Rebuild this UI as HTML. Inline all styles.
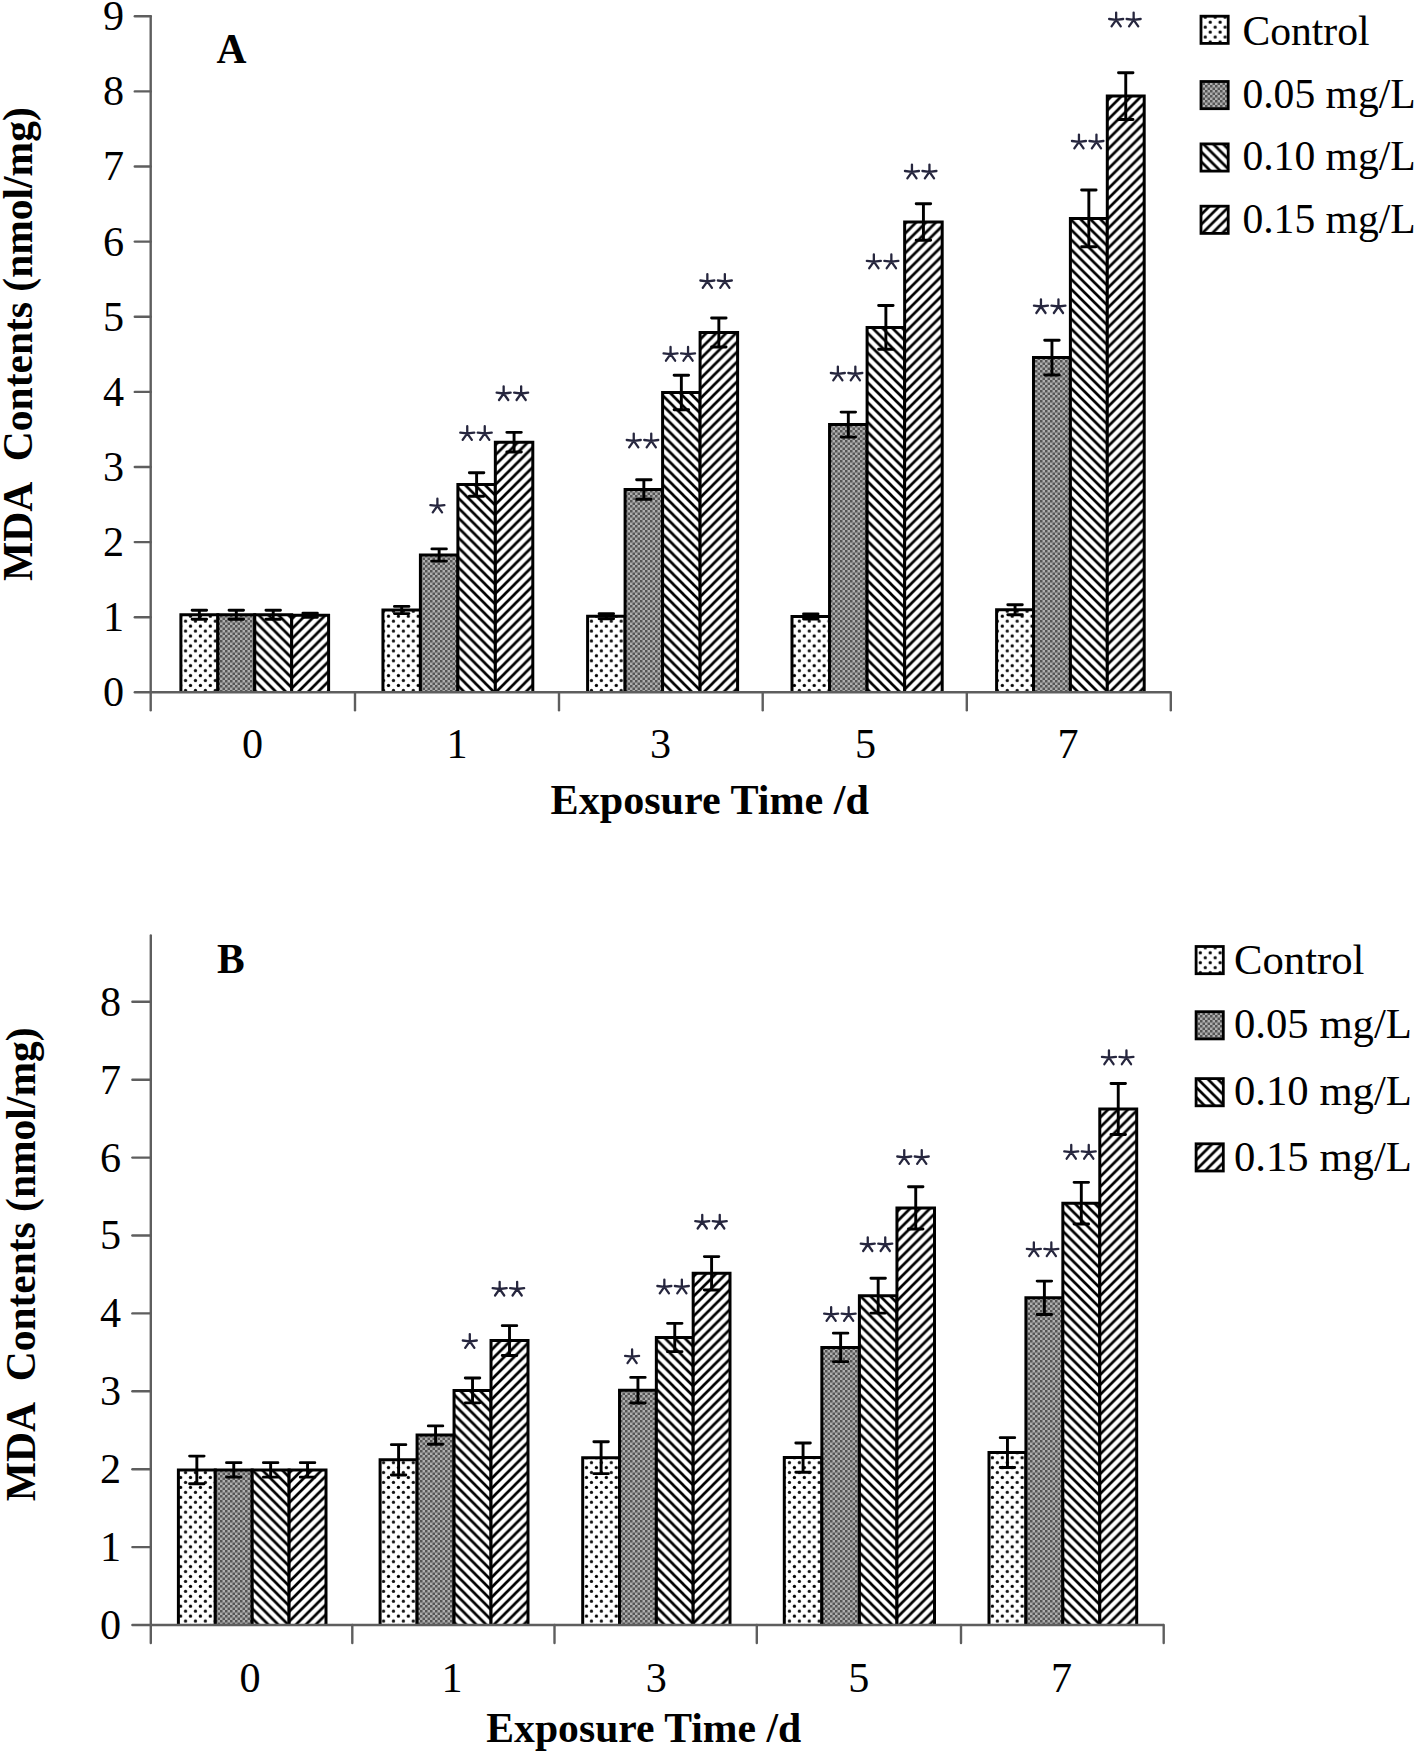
<!DOCTYPE html>
<html><head><meta charset="utf-8"><title>MDA Contents</title><style>html,body{margin:0;padding:0;background:#fff;}body{width:1417px;height:1754px;overflow:hidden;font-family:"Liberation Serif",serif;}svg{display:block;}</style></head><body>
<svg width="1417" height="1754" viewBox="0 0 1417 1754">
<style>.t{font-family:"Liberation Serif",serif;font-size:42.2px;fill:#000}.tb{font-family:"Liberation Serif",serif;font-size:41.5px;font-weight:bold;fill:#000}</style>
<defs><pattern id="pdot" patternUnits="userSpaceOnUse" width="9.90" height="9.90"><rect width="9.90" height="9.90" fill="#fff"/><circle cx="2.4" cy="2.4" r="1.65" fill="#000"/><circle cx="7.35" cy="7.35" r="1.65" fill="#111"/></pattern><pattern id="pgray" patternUnits="userSpaceOnUse" width="5.0" height="5.0"><rect width="5.0" height="5.0" fill="#aeaeae"/><rect width="2.50" height="2.50" fill="#555555"/><rect x="2.50" y="2.50" width="2.50" height="2.50" fill="#555555"/></pattern><pattern id="pdown" patternUnits="userSpaceOnUse" width="9.9" height="9.9"><rect width="9.9" height="9.9" fill="#fff"/><path d="M-3,-3 L12.9,12.9 M6.9,-3 L12.9,3 M-3,6.9 L3,12.9" stroke="#000" stroke-width="2.7"/></pattern><pattern id="pup" patternUnits="userSpaceOnUse" width="9.9" height="9.9"><rect width="9.9" height="9.9" fill="#fff"/><path d="M-3,12.9 L12.9,-3 M-3,3 L3,-3 M6.9,12.9 L12.9,6.9" stroke="#000" stroke-width="2.7"/></pattern></defs>
<rect width="1417" height="1754" fill="#fff"/>
<g stroke="#5e5e5e" stroke-width="2.4" fill="none" stroke-linecap="round">
<line x1="150.7" y1="16.3" x2="150.7" y2="710.3"/>
<line x1="134.8" y1="692.3" x2="150.7" y2="692.3"/>
<line x1="134.8" y1="617.2" x2="150.7" y2="617.2"/>
<line x1="134.8" y1="542.1" x2="150.7" y2="542.1"/>
<line x1="134.8" y1="467.0" x2="150.7" y2="467.0"/>
<line x1="134.8" y1="391.9" x2="150.7" y2="391.9"/>
<line x1="134.8" y1="316.7" x2="150.7" y2="316.7"/>
<line x1="134.8" y1="241.6" x2="150.7" y2="241.6"/>
<line x1="134.8" y1="166.5" x2="150.7" y2="166.5"/>
<line x1="134.8" y1="91.4" x2="150.7" y2="91.4"/>
<line x1="134.8" y1="16.3" x2="150.7" y2="16.3"/>
<line x1="355.0" y1="692.3" x2="355.0" y2="710.3"/>
<line x1="559.0" y1="692.3" x2="559.0" y2="710.3"/>
<line x1="762.7" y1="692.3" x2="762.7" y2="710.3"/>
<line x1="966.8" y1="692.3" x2="966.8" y2="710.3"/>
<line x1="1170.8" y1="692.3" x2="1170.8" y2="710.3"/>
</g>
<g stroke="#000" stroke-width="3.0">
<path d="M180.90,692.80 V614.80 H217.83 V692.80" fill="url(#pdot)"/>
<path d="M217.83,692.80 V614.80 H254.75 V692.80" fill="url(#pgray)"/>
<path d="M254.75,692.80 V614.80 H291.68 V692.80" fill="url(#pdown)"/>
<path d="M291.68,692.80 V615.20 H328.60 V692.80" fill="url(#pup)"/>
<path d="M382.95,692.80 V610.00 H420.41 V692.80" fill="url(#pdot)"/>
<path d="M420.41,692.80 V555.00 H457.87 V692.80" fill="url(#pgray)"/>
<path d="M457.88,692.80 V484.50 H495.34 V692.80" fill="url(#pdown)"/>
<path d="M495.34,692.80 V442.20 H532.80 V692.80" fill="url(#pup)"/>
<path d="M587.60,692.80 V616.30 H625.10 V692.80" fill="url(#pdot)"/>
<path d="M625.10,692.80 V489.50 H662.60 V692.80" fill="url(#pgray)"/>
<path d="M662.60,692.80 V392.50 H700.10 V692.80" fill="url(#pdown)"/>
<path d="M700.10,692.80 V332.50 H737.60 V692.80" fill="url(#pup)"/>
<path d="M792.00,692.80 V616.50 H829.55 V692.80" fill="url(#pdot)"/>
<path d="M829.55,692.80 V424.60 H867.10 V692.80" fill="url(#pgray)"/>
<path d="M867.10,692.80 V327.40 H904.65 V692.80" fill="url(#pdown)"/>
<path d="M904.65,692.80 V222.00 H942.20 V692.80" fill="url(#pup)"/>
<path d="M996.60,692.80 V609.70 H1033.50 V692.80" fill="url(#pdot)"/>
<path d="M1033.50,692.80 V357.60 H1070.40 V692.80" fill="url(#pgray)"/>
<path d="M1070.40,692.80 V218.40 H1107.30 V692.80" fill="url(#pdown)"/>
<path d="M1107.30,692.80 V96.10 H1144.20 V692.80" fill="url(#pup)"/>
</g>
<g stroke="#000" stroke-width="2.9" fill="none" stroke-linecap="round">
<path d="M199.36,610.30 V619.30 M192.11,610.30 H206.61 M192.11,619.30 H206.61"/>
<path d="M236.29,610.30 V619.30 M229.04,610.30 H243.54 M229.04,619.30 H243.54"/>
<path d="M273.21,610.30 V619.30 M265.96,610.30 H280.46 M265.96,619.30 H280.46"/>
<path d="M310.14,613.20 V617.20 M302.89,613.20 H317.39 M302.89,617.20 H317.39"/>
<path d="M401.68,606.40 V613.60 M394.43,606.40 H408.93 M394.43,613.60 H408.93"/>
<path d="M439.14,548.90 V561.10 M431.89,548.90 H446.39 M431.89,561.10 H446.39"/>
<path d="M476.61,472.75 V496.25 M469.36,472.75 H483.86 M469.36,496.25 H483.86"/>
<path d="M514.07,432.35 V452.05 M506.82,432.35 H521.32 M506.82,452.05 H521.32"/>
<path d="M606.35,613.80 V618.80 M599.10,613.80 H613.60 M599.10,618.80 H613.60"/>
<path d="M643.85,479.70 V499.30 M636.60,479.70 H651.10 M636.60,499.30 H651.10"/>
<path d="M681.35,375.20 V409.80 M674.10,375.20 H688.60 M674.10,409.80 H688.60"/>
<path d="M718.85,317.95 V347.05 M711.60,317.95 H726.10 M711.60,347.05 H726.10"/>
<path d="M810.77,614.00 V619.00 M803.52,614.00 H818.02 M803.52,619.00 H818.02"/>
<path d="M848.32,412.10 V437.10 M841.07,412.10 H855.57 M841.07,437.10 H855.57"/>
<path d="M885.88,305.50 V349.30 M878.62,305.50 H893.12 M878.62,349.30 H893.12"/>
<path d="M923.43,203.70 V240.30 M916.18,203.70 H930.68 M916.18,240.30 H930.68"/>
<path d="M1015.05,604.70 V614.70 M1007.80,604.70 H1022.30 M1007.80,614.70 H1022.30"/>
<path d="M1051.95,340.25 V374.95 M1044.70,340.25 H1059.20 M1044.70,374.95 H1059.20"/>
<path d="M1088.85,190.05 V246.75 M1081.60,190.05 H1096.10 M1081.60,246.75 H1096.10"/>
<path d="M1125.75,72.75 V119.45 M1118.50,72.75 H1133.00 M1118.50,119.45 H1133.00"/>
</g>
<line x1="150.7" y1="692.3" x2="1170.8" y2="692.3" stroke="#5e5e5e" stroke-width="2.4"/>
<g stroke="#26263e" stroke-width="2.3" stroke-linecap="round" fill="none">
<path d="M437.40,505.90 l0,-7.2 M437.40,505.90 l-7.0,-0.8 M437.40,505.90 l7.0,-0.8 M437.40,505.90 l-4.6,6.5 M437.40,505.90 l4.6,6.5"/>
<path d="M467.25,433.40 l0,-7.2 M467.25,433.40 l-7.0,-0.8 M467.25,433.40 l7.0,-0.8 M467.25,433.40 l-4.6,6.5 M467.25,433.40 l4.6,6.5"/>
<path d="M484.75,433.40 l0,-7.2 M484.75,433.40 l-7.0,-0.8 M484.75,433.40 l7.0,-0.8 M484.75,433.40 l-4.6,6.5 M484.75,433.40 l4.6,6.5"/>
<path d="M503.65,393.50 l0,-7.2 M503.65,393.50 l-7.0,-0.8 M503.65,393.50 l7.0,-0.8 M503.65,393.50 l-4.6,6.5 M503.65,393.50 l4.6,6.5"/>
<path d="M521.15,393.50 l0,-7.2 M521.15,393.50 l-7.0,-0.8 M521.15,393.50 l7.0,-0.8 M521.15,393.50 l-4.6,6.5 M521.15,393.50 l4.6,6.5"/>
<path d="M633.75,440.80 l0,-7.2 M633.75,440.80 l-7.0,-0.8 M633.75,440.80 l7.0,-0.8 M633.75,440.80 l-4.6,6.5 M633.75,440.80 l4.6,6.5"/>
<path d="M651.25,440.80 l0,-7.2 M651.25,440.80 l-7.0,-0.8 M651.25,440.80 l7.0,-0.8 M651.25,440.80 l-4.6,6.5 M651.25,440.80 l4.6,6.5"/>
<path d="M670.55,354.20 l0,-7.2 M670.55,354.20 l-7.0,-0.8 M670.55,354.20 l7.0,-0.8 M670.55,354.20 l-4.6,6.5 M670.55,354.20 l4.6,6.5"/>
<path d="M688.05,354.20 l0,-7.2 M688.05,354.20 l-7.0,-0.8 M688.05,354.20 l7.0,-0.8 M688.05,354.20 l-4.6,6.5 M688.05,354.20 l4.6,6.5"/>
<path d="M707.35,281.30 l0,-7.2 M707.35,281.30 l-7.0,-0.8 M707.35,281.30 l7.0,-0.8 M707.35,281.30 l-4.6,6.5 M707.35,281.30 l4.6,6.5"/>
<path d="M724.85,281.30 l0,-7.2 M724.85,281.30 l-7.0,-0.8 M724.85,281.30 l7.0,-0.8 M724.85,281.30 l-4.6,6.5 M724.85,281.30 l4.6,6.5"/>
<path d="M837.85,373.80 l0,-7.2 M837.85,373.80 l-7.0,-0.8 M837.85,373.80 l7.0,-0.8 M837.85,373.80 l-4.6,6.5 M837.85,373.80 l4.6,6.5"/>
<path d="M855.35,373.80 l0,-7.2 M855.35,373.80 l-7.0,-0.8 M855.35,373.80 l7.0,-0.8 M855.35,373.80 l-4.6,6.5 M855.35,373.80 l4.6,6.5"/>
<path d="M873.85,261.70 l0,-7.2 M873.85,261.70 l-7.0,-0.8 M873.85,261.70 l7.0,-0.8 M873.85,261.70 l-4.6,6.5 M873.85,261.70 l4.6,6.5"/>
<path d="M891.35,261.70 l0,-7.2 M891.35,261.70 l-7.0,-0.8 M891.35,261.70 l7.0,-0.8 M891.35,261.70 l-4.6,6.5 M891.35,261.70 l4.6,6.5"/>
<path d="M911.95,171.80 l0,-7.2 M911.95,171.80 l-7.0,-0.8 M911.95,171.80 l7.0,-0.8 M911.95,171.80 l-4.6,6.5 M911.95,171.80 l4.6,6.5"/>
<path d="M929.45,171.80 l0,-7.2 M929.45,171.80 l-7.0,-0.8 M929.45,171.80 l7.0,-0.8 M929.45,171.80 l-4.6,6.5 M929.45,171.80 l4.6,6.5"/>
<path d="M1040.95,306.50 l0,-7.2 M1040.95,306.50 l-7.0,-0.8 M1040.95,306.50 l7.0,-0.8 M1040.95,306.50 l-4.6,6.5 M1040.95,306.50 l4.6,6.5"/>
<path d="M1058.45,306.50 l0,-7.2 M1058.45,306.50 l-7.0,-0.8 M1058.45,306.50 l7.0,-0.8 M1058.45,306.50 l-4.6,6.5 M1058.45,306.50 l4.6,6.5"/>
<path d="M1078.95,141.80 l0,-7.2 M1078.95,141.80 l-7.0,-0.8 M1078.95,141.80 l7.0,-0.8 M1078.95,141.80 l-4.6,6.5 M1078.95,141.80 l4.6,6.5"/>
<path d="M1096.45,141.80 l0,-7.2 M1096.45,141.80 l-7.0,-0.8 M1096.45,141.80 l7.0,-0.8 M1096.45,141.80 l-4.6,6.5 M1096.45,141.80 l4.6,6.5"/>
<path d="M1116.15,19.80 l0,-7.2 M1116.15,19.80 l-7.0,-0.8 M1116.15,19.80 l7.0,-0.8 M1116.15,19.80 l-4.6,6.5 M1116.15,19.80 l4.6,6.5"/>
<path d="M1133.65,19.80 l0,-7.2 M1133.65,19.80 l-7.0,-0.8 M1133.65,19.80 l7.0,-0.8 M1133.65,19.80 l-4.6,6.5 M1133.65,19.80 l4.6,6.5"/>
</g>
<text x="124.0" y="706.2" text-anchor="end" class="t">0</text>
<text x="124.0" y="631.1" text-anchor="end" class="t">1</text>
<text x="124.0" y="556.0" text-anchor="end" class="t">2</text>
<text x="124.0" y="480.9" text-anchor="end" class="t">3</text>
<text x="124.0" y="405.8" text-anchor="end" class="t">4</text>
<text x="124.0" y="330.6" text-anchor="end" class="t">5</text>
<text x="124.0" y="255.5" text-anchor="end" class="t">6</text>
<text x="124.0" y="180.4" text-anchor="end" class="t">7</text>
<text x="124.0" y="105.3" text-anchor="end" class="t">8</text>
<text x="124.0" y="30.2" text-anchor="end" class="t">9</text>
<text x="252.5" y="758.0" text-anchor="middle" class="t">0</text>
<text x="457.0" y="758.0" text-anchor="middle" class="t">1</text>
<text x="660.5" y="758.0" text-anchor="middle" class="t">3</text>
<text x="865.5" y="758.0" text-anchor="middle" class="t">5</text>
<text x="1068.0" y="758.0" text-anchor="middle" class="t">7</text>
<text transform="translate(550.6,813.6) scale(1.015,1)" x="0" y="0" class="tb">Exposure Time /d</text>
<text transform="translate(31.6,581.0) rotate(-90)" x="0" y="0" class="tb">MDA&#160; Contents (nmol/mg)</text>
<text x="216.5" y="62.5" class="tb">A</text>
<rect x="1201.0" y="16.2" width="27.2" height="27.2" fill="url(#pdot)" stroke="#000" stroke-width="2.8"/>
<text x="1242.4" y="44.8" class="t" style="font-size:41.6px">Control</text>
<rect x="1201.0" y="81.5" width="27.2" height="27.2" fill="url(#pgray)" stroke="#000" stroke-width="2.8"/>
<text x="1242.4" y="107.5" class="t" style="font-size:41.6px">0.05 mg/L</text>
<rect x="1201.0" y="143.9" width="27.2" height="27.2" fill="url(#pdown)" stroke="#000" stroke-width="2.8"/>
<text x="1242.4" y="170.0" class="t" style="font-size:41.6px">0.10 mg/L</text>
<rect x="1201.0" y="206.2" width="27.2" height="27.2" fill="url(#pup)" stroke="#000" stroke-width="2.8"/>
<text x="1242.4" y="232.5" class="t" style="font-size:41.6px">0.15 mg/L</text>
<g stroke="#5e5e5e" stroke-width="2.4" fill="none" stroke-linecap="round">
<line x1="150.8" y1="935.5" x2="150.8" y2="1643.0"/>
<line x1="132.4" y1="1625.0" x2="150.8" y2="1625.0"/>
<line x1="132.4" y1="1547.1" x2="150.8" y2="1547.1"/>
<line x1="132.4" y1="1469.2" x2="150.8" y2="1469.2"/>
<line x1="132.4" y1="1391.3" x2="150.8" y2="1391.3"/>
<line x1="132.4" y1="1313.4" x2="150.8" y2="1313.4"/>
<line x1="132.4" y1="1235.5" x2="150.8" y2="1235.5"/>
<line x1="132.4" y1="1157.6" x2="150.8" y2="1157.6"/>
<line x1="132.4" y1="1079.7" x2="150.8" y2="1079.7"/>
<line x1="132.4" y1="1001.8" x2="150.8" y2="1001.8"/>
<line x1="352.3" y1="1625.0" x2="352.3" y2="1643.0"/>
<line x1="554.5" y1="1625.0" x2="554.5" y2="1643.0"/>
<line x1="756.8" y1="1625.0" x2="756.8" y2="1643.0"/>
<line x1="961.0" y1="1625.0" x2="961.0" y2="1643.0"/>
<line x1="1163.7" y1="1625.0" x2="1163.7" y2="1643.0"/>
</g>
<g stroke="#000" stroke-width="3.0">
<path d="M178.40,1625.50 V1469.90 H215.30 V1625.50" fill="url(#pdot)"/>
<path d="M215.30,1625.50 V1469.90 H252.20 V1625.50" fill="url(#pgray)"/>
<path d="M252.20,1625.50 V1469.90 H289.10 V1625.50" fill="url(#pdown)"/>
<path d="M289.10,1625.50 V1469.90 H326.00 V1625.50" fill="url(#pup)"/>
<path d="M380.10,1625.50 V1459.80 H417.08 V1625.50" fill="url(#pdot)"/>
<path d="M417.08,1625.50 V1435.10 H454.05 V1625.50" fill="url(#pgray)"/>
<path d="M454.05,1625.50 V1390.40 H491.02 V1625.50" fill="url(#pdown)"/>
<path d="M491.02,1625.50 V1340.60 H528.00 V1625.50" fill="url(#pup)"/>
<path d="M582.70,1625.50 V1457.70 H619.53 V1625.50" fill="url(#pdot)"/>
<path d="M619.53,1625.50 V1390.20 H656.35 V1625.50" fill="url(#pgray)"/>
<path d="M656.35,1625.50 V1337.50 H693.17 V1625.50" fill="url(#pdown)"/>
<path d="M693.17,1625.50 V1273.30 H730.00 V1625.50" fill="url(#pup)"/>
<path d="M784.30,1625.50 V1457.60 H821.85 V1625.50" fill="url(#pdot)"/>
<path d="M821.85,1625.50 V1347.40 H859.40 V1625.50" fill="url(#pgray)"/>
<path d="M859.40,1625.50 V1295.70 H896.95 V1625.50" fill="url(#pdown)"/>
<path d="M896.95,1625.50 V1207.90 H934.50 V1625.50" fill="url(#pup)"/>
<path d="M989.00,1625.50 V1452.60 H1025.92 V1625.50" fill="url(#pdot)"/>
<path d="M1025.92,1625.50 V1297.80 H1062.85 V1625.50" fill="url(#pgray)"/>
<path d="M1062.85,1625.50 V1203.20 H1099.77 V1625.50" fill="url(#pdown)"/>
<path d="M1099.78,1625.50 V1109.00 H1136.70 V1625.50" fill="url(#pup)"/>
</g>
<g stroke="#000" stroke-width="2.9" fill="none" stroke-linecap="round">
<path d="M196.85,1456.10 V1483.70 M189.60,1456.10 H204.10 M189.60,1483.70 H204.10"/>
<path d="M233.75,1462.65 V1477.15 M226.50,1462.65 H241.00 M226.50,1477.15 H241.00"/>
<path d="M270.65,1462.65 V1477.15 M263.40,1462.65 H277.90 M263.40,1477.15 H277.90"/>
<path d="M307.55,1462.65 V1477.15 M300.30,1462.65 H314.80 M300.30,1477.15 H314.80"/>
<path d="M398.59,1444.65 V1474.95 M391.34,1444.65 H405.84 M391.34,1474.95 H405.84"/>
<path d="M435.56,1425.90 V1444.30 M428.31,1425.90 H442.81 M428.31,1444.30 H442.81"/>
<path d="M472.54,1377.95 V1402.85 M465.29,1377.95 H479.79 M465.29,1402.85 H479.79"/>
<path d="M509.51,1325.65 V1355.55 M502.26,1325.65 H516.76 M502.26,1355.55 H516.76"/>
<path d="M601.11,1441.75 V1473.65 M593.86,1441.75 H608.36 M593.86,1473.65 H608.36"/>
<path d="M637.94,1377.40 V1403.00 M630.69,1377.40 H645.19 M630.69,1403.00 H645.19"/>
<path d="M674.76,1323.35 V1351.65 M667.51,1323.35 H682.01 M667.51,1351.65 H682.01"/>
<path d="M711.59,1256.60 V1290.00 M704.34,1256.60 H718.84 M704.34,1290.00 H718.84"/>
<path d="M803.07,1442.95 V1472.25 M795.82,1442.95 H810.32 M795.82,1472.25 H810.32"/>
<path d="M840.62,1333.15 V1361.65 M833.37,1333.15 H847.87 M833.37,1361.65 H847.87"/>
<path d="M878.17,1278.30 V1313.10 M870.92,1278.30 H885.42 M870.92,1313.10 H885.42"/>
<path d="M915.73,1186.80 V1229.00 M908.48,1186.80 H922.98 M908.48,1229.00 H922.98"/>
<path d="M1007.46,1437.65 V1467.55 M1000.21,1437.65 H1014.71 M1000.21,1467.55 H1014.71"/>
<path d="M1044.39,1281.10 V1314.50 M1037.14,1281.10 H1051.64 M1037.14,1314.50 H1051.64"/>
<path d="M1081.31,1182.35 V1224.05 M1074.06,1182.35 H1088.56 M1074.06,1224.05 H1088.56"/>
<path d="M1118.24,1083.45 V1134.55 M1110.99,1083.45 H1125.49 M1110.99,1134.55 H1125.49"/>
</g>
<line x1="150.8" y1="1625.0" x2="1163.7" y2="1625.0" stroke="#5e5e5e" stroke-width="2.4"/>
<g stroke="#26263e" stroke-width="2.3" stroke-linecap="round" fill="none">
<path d="M469.80,1341.30 l0,-7.2 M469.80,1341.30 l-7.0,-0.8 M469.80,1341.30 l7.0,-0.8 M469.80,1341.30 l-4.6,6.5 M469.80,1341.30 l4.6,6.5"/>
<path d="M499.65,1289.00 l0,-7.2 M499.65,1289.00 l-7.0,-0.8 M499.65,1289.00 l7.0,-0.8 M499.65,1289.00 l-4.6,6.5 M499.65,1289.00 l4.6,6.5"/>
<path d="M517.15,1289.00 l0,-7.2 M517.15,1289.00 l-7.0,-0.8 M517.15,1289.00 l7.0,-0.8 M517.15,1289.00 l-4.6,6.5 M517.15,1289.00 l4.6,6.5"/>
<path d="M632.10,1356.60 l0,-7.2 M632.10,1356.60 l-7.0,-0.8 M632.10,1356.60 l7.0,-0.8 M632.10,1356.60 l-4.6,6.5 M632.10,1356.60 l4.6,6.5"/>
<path d="M664.35,1286.80 l0,-7.2 M664.35,1286.80 l-7.0,-0.8 M664.35,1286.80 l7.0,-0.8 M664.35,1286.80 l-4.6,6.5 M664.35,1286.80 l4.6,6.5"/>
<path d="M681.85,1286.80 l0,-7.2 M681.85,1286.80 l-7.0,-0.8 M681.85,1286.80 l7.0,-0.8 M681.85,1286.80 l-4.6,6.5 M681.85,1286.80 l4.6,6.5"/>
<path d="M702.25,1222.00 l0,-7.2 M702.25,1222.00 l-7.0,-0.8 M702.25,1222.00 l7.0,-0.8 M702.25,1222.00 l-4.6,6.5 M702.25,1222.00 l4.6,6.5"/>
<path d="M719.75,1222.00 l0,-7.2 M719.75,1222.00 l-7.0,-0.8 M719.75,1222.00 l7.0,-0.8 M719.75,1222.00 l-4.6,6.5 M719.75,1222.00 l4.6,6.5"/>
<path d="M831.15,1314.40 l0,-7.2 M831.15,1314.40 l-7.0,-0.8 M831.15,1314.40 l7.0,-0.8 M831.15,1314.40 l-4.6,6.5 M831.15,1314.40 l4.6,6.5"/>
<path d="M848.65,1314.40 l0,-7.2 M848.65,1314.40 l-7.0,-0.8 M848.65,1314.40 l7.0,-0.8 M848.65,1314.40 l-4.6,6.5 M848.65,1314.40 l4.6,6.5"/>
<path d="M867.75,1244.50 l0,-7.2 M867.75,1244.50 l-7.0,-0.8 M867.75,1244.50 l7.0,-0.8 M867.75,1244.50 l-4.6,6.5 M867.75,1244.50 l4.6,6.5"/>
<path d="M885.25,1244.50 l0,-7.2 M885.25,1244.50 l-7.0,-0.8 M885.25,1244.50 l7.0,-0.8 M885.25,1244.50 l-4.6,6.5 M885.25,1244.50 l4.6,6.5"/>
<path d="M904.25,1157.30 l0,-7.2 M904.25,1157.30 l-7.0,-0.8 M904.25,1157.30 l7.0,-0.8 M904.25,1157.30 l-4.6,6.5 M904.25,1157.30 l4.6,6.5"/>
<path d="M921.75,1157.30 l0,-7.2 M921.75,1157.30 l-7.0,-0.8 M921.75,1157.30 l7.0,-0.8 M921.75,1157.30 l-4.6,6.5 M921.75,1157.30 l4.6,6.5"/>
<path d="M1033.85,1249.60 l0,-7.2 M1033.85,1249.60 l-7.0,-0.8 M1033.85,1249.60 l7.0,-0.8 M1033.85,1249.60 l-4.6,6.5 M1033.85,1249.60 l4.6,6.5"/>
<path d="M1051.35,1249.60 l0,-7.2 M1051.35,1249.60 l-7.0,-0.8 M1051.35,1249.60 l7.0,-0.8 M1051.35,1249.60 l-4.6,6.5 M1051.35,1249.60 l4.6,6.5"/>
<path d="M1071.25,1152.20 l0,-7.2 M1071.25,1152.20 l-7.0,-0.8 M1071.25,1152.20 l7.0,-0.8 M1071.25,1152.20 l-4.6,6.5 M1071.25,1152.20 l4.6,6.5"/>
<path d="M1088.75,1152.20 l0,-7.2 M1088.75,1152.20 l-7.0,-0.8 M1088.75,1152.20 l7.0,-0.8 M1088.75,1152.20 l-4.6,6.5 M1088.75,1152.20 l4.6,6.5"/>
<path d="M1108.95,1057.70 l0,-7.2 M1108.95,1057.70 l-7.0,-0.8 M1108.95,1057.70 l7.0,-0.8 M1108.95,1057.70 l-4.6,6.5 M1108.95,1057.70 l4.6,6.5"/>
<path d="M1126.45,1057.70 l0,-7.2 M1126.45,1057.70 l-7.0,-0.8 M1126.45,1057.70 l7.0,-0.8 M1126.45,1057.70 l-4.6,6.5 M1126.45,1057.70 l4.6,6.5"/>
</g>
<text x="121.0" y="1638.9" text-anchor="end" class="t">0</text>
<text x="121.0" y="1561.0" text-anchor="end" class="t">1</text>
<text x="121.0" y="1483.1" text-anchor="end" class="t">2</text>
<text x="121.0" y="1405.2" text-anchor="end" class="t">3</text>
<text x="121.0" y="1327.3" text-anchor="end" class="t">4</text>
<text x="121.0" y="1249.4" text-anchor="end" class="t">5</text>
<text x="121.0" y="1171.5" text-anchor="end" class="t">6</text>
<text x="121.0" y="1093.6" text-anchor="end" class="t">7</text>
<text x="121.0" y="1015.7" text-anchor="end" class="t">8</text>
<text x="250.0" y="1691.5" text-anchor="middle" class="t">0</text>
<text x="452.0" y="1691.5" text-anchor="middle" class="t">1</text>
<text x="656.3" y="1691.5" text-anchor="middle" class="t">3</text>
<text x="858.9" y="1691.5" text-anchor="middle" class="t">5</text>
<text x="1061.5" y="1691.5" text-anchor="middle" class="t">7</text>
<text transform="translate(486.3,1741.7) scale(1.004,1)" x="0" y="0" class="tb">Exposure Time /d</text>
<text transform="translate(35.0,1501.2) rotate(-90)" x="0" y="0" class="tb">MDA&#160; Contents (nmol/mg)</text>
<text x="217.0" y="972.9" class="tb">B</text>
<rect x="1196.1" y="946.5" width="27.2" height="27.2" fill="url(#pdot)" stroke="#000" stroke-width="2.8"/>
<text x="1234.0" y="973.5" class="t" style="font-size:42.7px">Control</text>
<rect x="1196.1" y="1011.7" width="27.2" height="27.2" fill="url(#pgray)" stroke="#000" stroke-width="2.8"/>
<text x="1234.0" y="1037.9" class="t" style="font-size:42.7px">0.05 mg/L</text>
<rect x="1196.1" y="1078.6" width="27.2" height="27.2" fill="url(#pdown)" stroke="#000" stroke-width="2.8"/>
<text x="1234.0" y="1105.3" class="t" style="font-size:42.7px">0.10 mg/L</text>
<rect x="1196.1" y="1143.8" width="27.2" height="27.2" fill="url(#pup)" stroke="#000" stroke-width="2.8"/>
<text x="1234.0" y="1170.5" class="t" style="font-size:42.7px">0.15 mg/L</text>
</svg>
</body></html>
